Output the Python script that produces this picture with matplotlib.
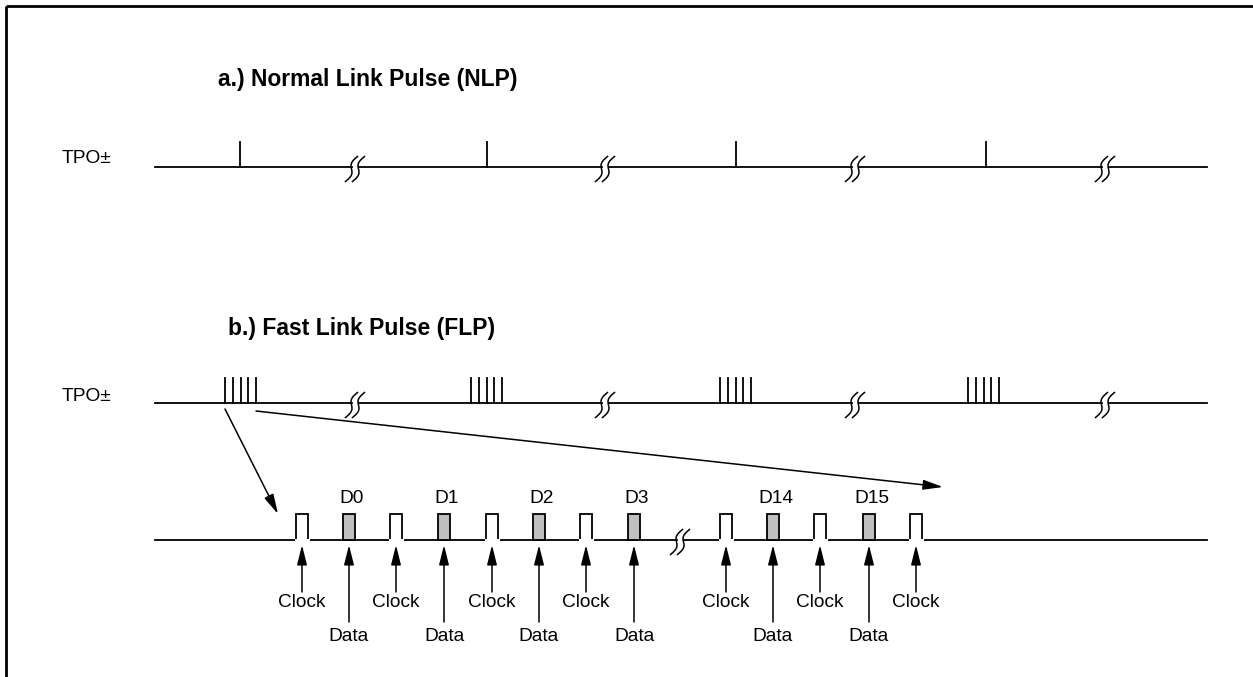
import numpy as np
import matplotlib
matplotlib.use("Agg")
import matplotlib.pyplot as plt
from matplotlib.patches import Rectangle, FancyArrowPatch

plt.rcParams['font.family'] = ['Liberation Sans', 'DejaVu Sans']

W, H = 1253, 677

# diagram data (pixel layout of the timing drawing)
line_start, line_end = 155, 1207
nlp_y = 167
flp_y = 403
zoom_y = 540
nlp_pulses = [240, 487, 736, 986]
flp_bursts = [225, 471, 720, 968]
burst_step = 7.75
burst_count = 5
breaks_top = [355, 605, 855, 1105]
breaks_zoom = [680]
clock_x = [296, 390, 486, 580, 720, 814, 910]
data_x = [343, 438, 533, 628, 767, 863]
data_names = ["D0", "D1", "D2", "D3", "D14", "D15"]
pulse_w = 12
pulse_h = 26
tick_h = 25

fig = plt.figure(figsize=(W / 100, H / 100), dpi=100)
ax = fig.add_axes([0, 0, 1, 1])
ax.set_xlim(0, W)
ax.set_ylim(H, 0)
ax.axis('off')

LW = 1.3
TXT = 13.8

# frame (top + left edge only)
ax.plot([6, W], [6, 6], color='black', lw=2.0, solid_capstyle='butt')
ax.plot([6, 6], [6, H], color='black', lw=2.0, solid_capstyle='butt')


def draw_break(cx, ly):
    t = np.linspace(-1, 1, 60)
    for c in (cx - 3.5, cx + 3.5):
        xs = c + 6 * t - 2.8 * np.sin(np.pi * t)
        ys = ly + 2 - 12.5 * t
        ax.plot(xs, ys, color='black', lw=1.1)


def draw_baseline(ly, brks):
    edges = [line_start]
    for b in brks:
        edges += [b - 3.5, b + 3.5]
    edges.append(line_end)
    for i in range(0, len(edges), 2):
        ax.plot([edges[i], edges[i + 1]], [ly, ly], color='black', lw=LW)
    for b in brks:
        draw_break(b, ly)


def up_arrow(xc, y0):
    ax.add_patch(FancyArrowPatch((xc, y0), (xc, 545), arrowstyle='-|>,head_length=1.2,head_width=0.3',
                                 mutation_scale=10, color='black', lw=1.1, shrinkA=0, shrinkB=0))


# a.) NLP
ax.text(218, 86, "a.) Normal Link Pulse (NLP)", fontsize=16.5, fontweight='bold', va='baseline')
ax.text(62, 163, "TPO±", fontsize=TXT, va='baseline')
draw_baseline(nlp_y, breaks_top)
for px in nlp_pulses:
    ax.plot([px, px], [nlp_y, nlp_y - tick_h], color='black', lw=LW)

# b.) FLP
ax.text(228, 335, "b.) Fast Link Pulse (FLP)", fontsize=16.5, fontweight='bold', va='baseline')
ax.text(62, 401, "TPO±", fontsize=TXT, va='baseline')
draw_baseline(flp_y, breaks_top)
for bx in flp_bursts:
    for k in range(burst_count):
        px = bx + k * burst_step
        ax.plot([px, px], [flp_y, flp_y - tick_h], color='black', lw=LW)

# zoom arrows
for (x0, y0), (x1, y1) in [((225, 409), (278, 514)), ((256, 411), (943, 487))]:
    ax.add_patch(FancyArrowPatch((x0, y0), (x1, y1), arrowstyle='-|>,head_length=1.2,head_width=0.3',
                                 mutation_scale=10, color='black', lw=1.1, shrinkA=0, shrinkB=0))

# expanded burst
draw_baseline(zoom_y, breaks_zoom)
for cx in clock_x:
    ax.add_patch(Rectangle((cx, zoom_y - pulse_h), pulse_w, pulse_h, facecolor='white',
                           edgecolor='black', lw=LW, zorder=3))
    ax.plot([cx + 0.3, cx + pulse_w - 0.3], [zoom_y, zoom_y], color='white', lw=2.2, zorder=4)
    xc = cx + pulse_w / 2
    up_arrow(xc, 592)
    ax.text(xc, 607, "Clock", fontsize=TXT, ha='center', va='baseline')

for dx, name in zip(data_x, data_names):
    ax.add_patch(Rectangle((dx, zoom_y - pulse_h), pulse_w, pulse_h, facecolor='#c0c0c0',
                           edgecolor='black', lw=LW, zorder=3))
    xc = dx + pulse_w / 2
    up_arrow(xc, 622)
    ax.text(xc, 641, "Data", fontsize=TXT, ha='center', va='baseline')
    ax.text(xc + 3, 503, name, fontsize=TXT, ha='center', va='baseline')

fig.savefig("out.png", dpi=100, facecolor='white')
